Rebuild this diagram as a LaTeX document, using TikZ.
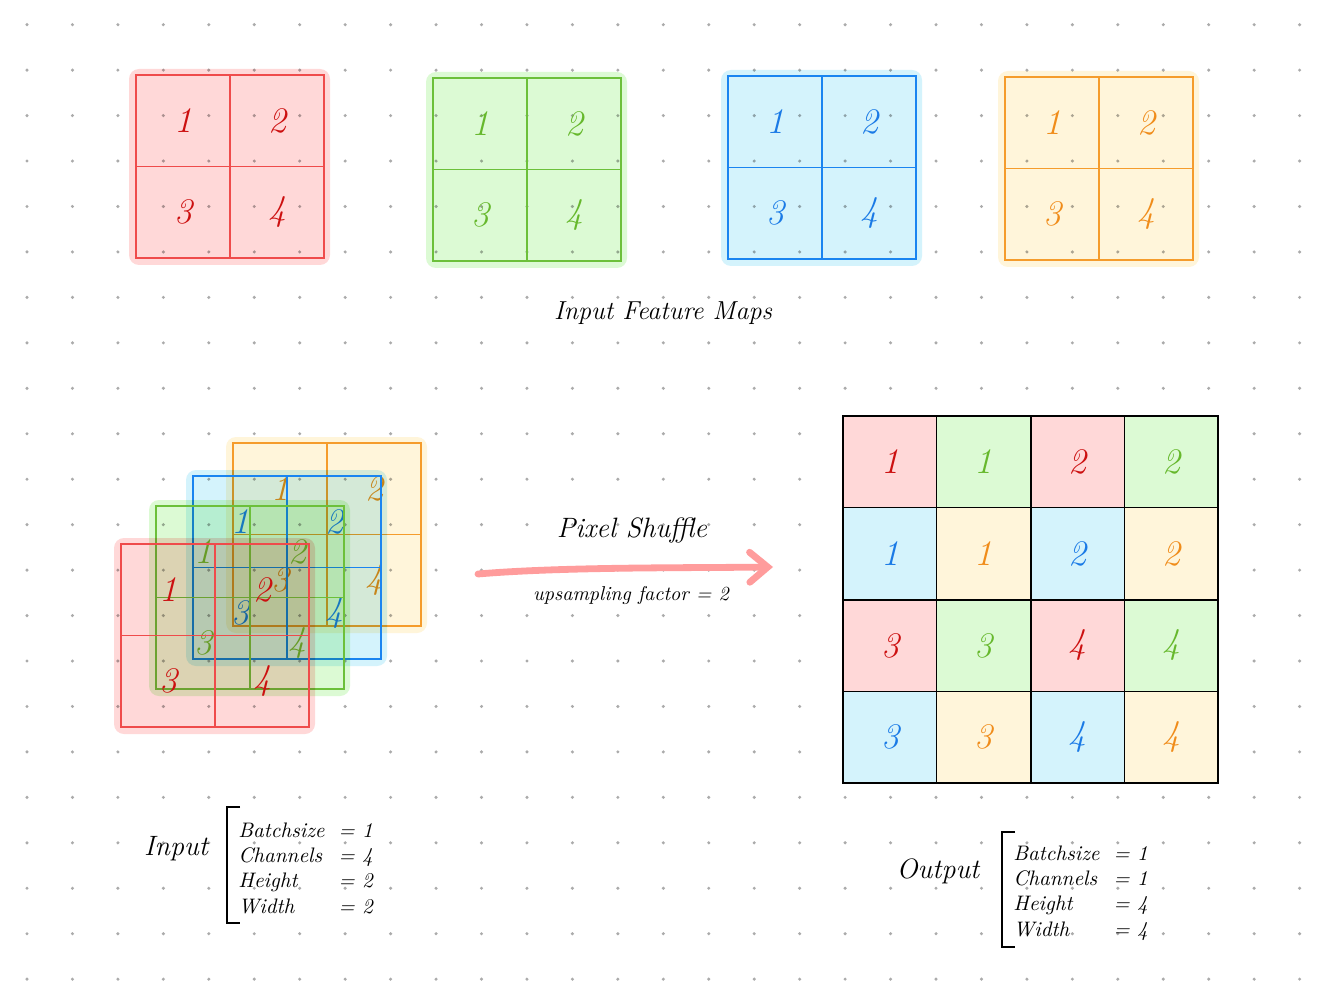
\documentclass[tikz,border=0pt]{standalone}
\usepackage{xcolor}
\usepackage{tikz}
\usetikzlibrary{positioning,arrows.meta}

\definecolor{fillred}{HTML}{FFD8D8}
\definecolor{linered}{HTML}{EF4B4B}
\definecolor{txtred}{HTML}{CC1010}
\definecolor{fillgreen}{HTML}{DCFAD4}
\definecolor{linegreen}{HTML}{6CC03A}
\definecolor{txtgreen}{HTML}{66B82C}
\definecolor{fillblue}{HTML}{D4F3FC}
\definecolor{lineblue}{HTML}{1A84F0}
\definecolor{txtblue}{HTML}{1A7AE6}
\definecolor{fillorange}{HTML}{FFF5DA}
\definecolor{lineorange}{HTML}{F59C2C}
\definecolor{txtorange}{HTML}{F08C1A}
\definecolor{dotgray}{HTML}{ABABAB}
\definecolor{arrowpink}{HTML}{FF9C9C}

\tikzset{
  cell/.style={minimum width=47pt,minimum height=45.75pt,inner sep=0pt,outer sep=0pt,line width=0.7pt,font=\fontsize{18}{18}\selectfont\itshape},
  ocell/.style={draw=black,minimum width=46.9pt,minimum height=45.9pt,inner sep=0pt,outer sep=0pt,line width=0.6pt,font=\fontsize{18}{18}\selectfont\itshape}
}

\begin{document}
\begin{tikzpicture}[x=0.5pt,y=-0.5pt]
\fill[white] (0,0) rectangle (1322,1000);
\useasboundingbox (0,0) rectangle (1322,1000);
% dot grid
\foreach \i in {0,...,28}
  \foreach \j in {0,...,21}
    \fill[dotgray] (27+45.45*\i,24.7+45.45*\j) circle (0.85pt);
% one 2x2 map: prefix, left, top, colour
\def\fmap#1#2#3#4{%
  \fill[fill#4,rounded corners=5pt,blend mode=multiply] (#2-7,#3-6) rectangle (#2+194,#3+190);
  \node[cell,draw=line#4,text=txt#4] (#1a) at (#2+47,#3+45.75) {1};
  \node[cell,draw=line#4,text=txt#4,right=0pt of #1a] (#1b) {2};
  \node[cell,draw=line#4,text=txt#4,below=0pt of #1a] (#1c) {3};
  \node[cell,draw=line#4,text=txt#4,right=0pt of #1c] (#1d) {4};
  \draw[line#4,line width=1.3pt] (#1a.north west) rectangle (#1d.south east);
}
% input feature maps, top row
\fmap{tr}{136}{75}{red}
\fmap{tg}{433}{78}{green}
\fmap{tb}{728}{76}{blue}
\fmap{to}{1005}{77}{orange}
\node[font=\fontsize{13}{15}\selectfont\itshape] (title) at (663,313) {Input Feature Maps};
% stacked input, back to front
\fmap{so}{233}{443}{orange}
\fmap{sb}{193}{476}{blue}
\fmap{sg}{156}{506}{green}
\fmap{sr}{121}{544}{red}
% pixel shuffle arrow
\coordinate (arrS) at (478,574);
\coordinate (arrE) at (773,567);
\draw[arrowpink,line width=3.4pt,line cap=round,-{Straight Barb[length=9pt,width=15pt,line cap=round]}] (arrS) .. controls (560,567) and (680,568) .. (arrE);
\node[font=\fontsize{14}{16}\selectfont\itshape] (pxs) at (632,530) {Pixel Shuffle};
\node[font=\fontsize{10}{12}\selectfont\itshape] (upf) at (631,595) {upsampling factor = 2};
% output 4x4
\foreach \c/\r/\k/\d in {0/0/red/1,1/0/green/1,2/0/red/2,3/0/green/2,
    0/1/blue/1,1/1/orange/1,2/1/blue/2,3/1/orange/2,
    0/2/red/3,1/2/green/3,2/2/red/4,3/2/green/4,
    0/3/blue/3,1/3/orange/3,2/3/blue/4,3/3/orange/4}
  \node[ocell,fill=fill\k,text=txt\k] (o\c\r) at (890+93.75*\c,462+91.75*\r) {\d};
\foreach \a/\b in {00/11,20/31,02/13,22/33}
  \draw[line width=1.1pt] (o\a.north west) rectangle (o\b.south east);
% shape labels
\node[font=\fontsize{14}{16}\selectfont\itshape] (inlab) at (176,849) {Input};
\draw[line width=0.9pt] (240,807) -- (227,807) -- (227,923) -- (240,923);
\node[anchor=north west,inner sep=0pt,font=\fontsize{10.5}{12.7}\selectfont\itshape] (inpar) at (238,819)
  {\begin{tabular}{@{}l@{\hspace{7pt}}l@{}}Batchsize & = 1\\ Channels & = 4\\ Height & = 2\\ Width & = 2\end{tabular}};
\node[font=\fontsize{14}{16}\selectfont\itshape] (outlab) at (938,871) {Output};
\draw[line width=0.9pt] (1015,832) -- (1002,832) -- (1002,947) -- (1015,947);
\node[anchor=north west,inner sep=0pt,font=\fontsize{10.5}{12.7}\selectfont\itshape] (outpar) at (1013,842)
  {\begin{tabular}{@{}l@{\hspace{7pt}}l@{}}Batchsize & = 1\\ Channels & = 1\\ Height & = 4\\ Width & = 4\end{tabular}};
\end{tikzpicture}
\end{document}
